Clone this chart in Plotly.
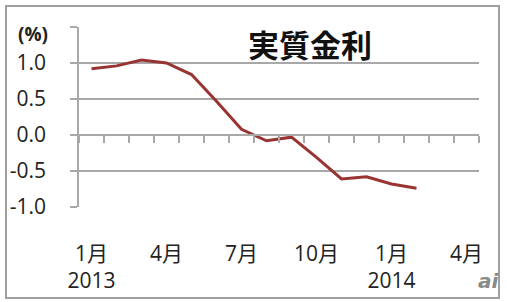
import plotly.graph_objects as go

# ---- data ----
months = ["2013-01", "2013-02", "2013-03", "2013-04", "2013-05", "2013-06",
          "2013-07", "2013-08", "2013-09", "2013-10", "2013-11", "2013-12",
          "2014-01", "2014-02", "2014-03", "2014-04"]
real_rate = [0.92, 0.96, 1.04, 1.00, 0.84, 0.47, 0.08, -0.08, -0.03,
             -0.31, -0.61, -0.58, -0.68, -0.74]
x_tick_idx = [0, 3, 6, 9, 12, 15]
x_tick_text = ["1月<br>2013", "4月", "7月", "10月", "1月<br>2014", "4月"]
y_tick_vals = [-1.0, -0.5, 0.0, 0.5, 1.0, 1.5]
y_tick_text = ["-1.0", "-0.5", "0.0", "0.5", "1.0", ""]
title_text = "実質金利"
unit_text = "(%)"

W, H = 507, 302
L, R, T, B = 79, 28, 27, 95
pw, ph = W - L - R, H - T - B

def px(x):
    return (x - L) / pw

def py(y):
    return (H - B - y) / ph

FONT = "Open Sans, Noto Sans CJK JP, sans-serif"
GRID = "#a8a8a8"

x_idx = list(range(len(real_rate)))

fig = go.Figure()
fig.add_trace(go.Scatter(
    x=x_idx, y=real_rate, mode="lines",
    line=dict(color="#983532", width=3),
    hoverinfo="skip", showlegend=False,
))

fig.update_layout(
    width=W, height=H,
    margin=dict(l=L, r=R, t=T, b=B, pad=0, autoexpand=False),
    paper_bgcolor="white", plot_bgcolor="white",
    font=dict(family=FONT, size=21, color="#222222"),
    showlegend=False,
    xaxis=dict(
        range=[-0.5, len(months) - 0.5],
        tickmode="array", tickvals=x_tick_idx, ticktext=x_tick_text,
        ticks="", showgrid=False, zeroline=False, automargin=False,
        showline=True, linecolor=GRID, linewidth=1.5,
        anchor="free", position=(0 - (-1.0)) / 2.5,
        ticklabelstandoff=100,
        minor=dict(tick0=-0.5, dtick=1, ticks="outside", ticklen=7,
                   tickcolor=GRID, tickwidth=1.5, showgrid=False),
        tickfont=dict(family=FONT, size=21, color="#222222"),
    ),
    yaxis=dict(
        range=[-1.0, 1.5],
        tickmode="array", tickvals=y_tick_vals, ticktext=y_tick_text,
        ticks="outside", ticklen=7, tickcolor=GRID, tickwidth=1.5,
        showgrid=True, gridcolor=GRID, gridwidth=1.5, automargin=False,
        zeroline=False, showline=True, linecolor=GRID, linewidth=1.5,
        ticklabelstandoff=20,
        tickfont=dict(family=FONT, size=21, color="#222222"),
    ),
    shapes=[dict(type="rect", xref="paper", yref="paper",
                 x0=px(6), x1=px(499), y0=py(298), y1=py(6),
                 line=dict(color="#a0a0a0", width=2), layer="below")],
    annotations=[
        dict(text="<b>" + title_text + "</b>", xref="paper", yref="paper",
             x=px(310), y=py(43), xanchor="center", yanchor="middle",
             showarrow=False,
             font=dict(family="Noto Sans CJK JP", size=31, color="#111111")),
        dict(text="<b>" + unit_text + "</b>", xref="paper", yref="paper",
             x=px(33), y=py(34), xanchor="center", yanchor="middle",
             showarrow=False,
             font=dict(family=FONT, size=19, color="#222222")),
        dict(text="<b><i>ai</i></b>", xref="paper", yref="paper",
             x=px(488), y=py(281), xanchor="center", yanchor="middle",
             showarrow=False,
             font=dict(family="DejaVu Sans", size=20, color="#8a8a8a")),
    ],
)

fig.write_html("out.html")
